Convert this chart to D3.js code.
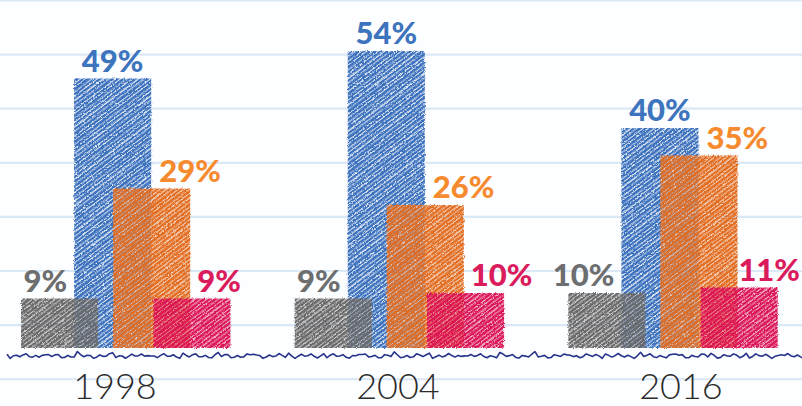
<!DOCTYPE html>
<meta charset="utf-8">
<style>
  body { margin: 0; background: #fdfeff; }
  svg { display: block; }
</style>
<body>
<script src="https://cdn.jsdelivr.net/npm/d3@7"></script>
<script>

// Data
const years = ["1998", "2004", "2016"];
const seriesKeys = ["gray", "blue", "orange", "pink"];
const grayValues = [9, 9, 10];
const blueValues = [49, 54, 40];
const orangeValues = [29, 26, 35];
const pinkValues = [9, 10, 11];

const width = 802, height = 406;
const baseY = 348;

const colors = {
  gray:   {bar: "#69696b", text: "#6d6e70"},
  blue:   {bar: "#3a70bd", text: "#3d74be"},
  orange: {bar: "#e26d20", text: "#f58a2e"},
  pink:   {bar: "#dc1457", text: "#da1b5c"}
};

const table = years.map((y, i) => ({
  year: y,
  gray: grayValues[i],
  blue: blueValues[i],
  orange: orangeValues[i],
  pink: pinkValues[i]
}));

const svg = d3.select("body").append("svg")
    .attr("width", width)
    .attr("height", height);

// scales
const x0 = d3.scaleBand()
    .domain(years)
    .range([21, 779])
    .paddingInner(0.23)
    .paddingOuter(0);

// the year captions do not sit exactly under the group centres
const xLabel = d3.scalePoint()
    .domain(years)
    .range([115, 681]);

const y = d3.scaleLinear()
    .domain([0, 60])
    .range([baseY, baseY - 60 * 5.5]);

// bars overlap inside a group, so the shift is a share of the group width
const bw = x0.bandwidth();
const barW = bw * 0.366;
const shift = {gray: 0, blue: 0.252, orange: 0.437, pink: 0.628};
const barX = (d, k) => x0(d.year) + shift[k] * bw;

// notebook lines in the background
svg.append("g")
  .selectAll("line")
  .data(d3.range(0, 8))
  .join("line")
    .attr("x1", 0)
    .attr("x2", width)
    .attr("y1", i => 0.5 + i * 54.1)
    .attr("y2", i => 0.5 + i * 54.1)
    .attr("stroke", "#dbe8f5")
    .attr("stroke-width", 2.2);

// hatch patterns and a rough filter for the hand drawn look
const defs = svg.append("defs");

const rough = defs.append("filter")
    .attr("id", "rough")
    .attr("x", "-5%").attr("y", "-5%")
    .attr("width", "110%").attr("height", "110%");
rough.append("feTurbulence")
    .attr("type", "fractalNoise")
    .attr("baseFrequency", 1.1)
    .attr("numOctaves", 2)
    .attr("seed", 4)
    .attr("result", "noise");
rough.append("feDisplacementMap")
    .attr("in", "SourceGraphic")
    .attr("in2", "noise")
    .attr("scale", 3)
    .attr("xChannelSelector", "R")
    .attr("yChannelSelector", "G");

const strokeRows = [1, 4.6, 8.0, 11.3, 14.9, 18.2];
const strokeWidths = [2.3, 2.7, 2.0, 2.8, 2.2, 2.5];

seriesKeys.forEach(k => {
  const p = defs.append("pattern")
      .attr("id", "hatch-" + k)
      .attr("patternUnits", "userSpaceOnUse")
      .attr("width", 40)
      .attr("height", 21)
      .attr("patternTransform", "rotate(-37)");
  p.append("rect")
      .attr("width", 40)
      .attr("height", 21)
      .attr("fill", colors[k].bar)
      .attr("fill-opacity", k === "blue" ? 0.12 : 0.3);
  strokeRows.forEach((r, i) => {
    p.append("line")
        .attr("x1", 0).attr("x2", 40)
        .attr("y1", r).attr("y2", r)
        .attr("stroke", colors[k].bar)
        .attr("stroke-width", strokeWidths[i]);
  });
});

// draw order: blue at the back, then gray, orange and pink on top
const drawOrder = ["blue", "gray", "orange", "pink"];
const barsG = svg.append("g").attr("filter", "url(#rough)");

drawOrder.forEach(k => {
  barsG.selectAll(".bar-" + k)
    .data(table)
    .join("rect")
      .attr("class", "bar bar-" + k)
      .attr("x", d => barX(d, k))
      .attr("y", d => y(d[k]))
      .attr("width", barW)
      .attr("height", d => baseY - y(d[k]))
      .attr("fill", "url(#hatch-" + k + ")");
});

// value labels
const labelG = svg.append("g")
    .style("font-family", "Lato, 'Noto Sans', sans-serif")
    .style("font-weight", 900)
    .style("font-size", "31px");

const labelPos = {
  gray:   d => ({x: barX(d, "blue") - 7, anchor: "end"}),
  blue:   d => ({x: barX(d, "blue") + barW / 2, anchor: "middle"}),
  orange: d => ({x: barX(d, "blue") + barW + 8, anchor: "start"}),
  pink:   d => ({x: barX(d, "orange") + barW + 7, anchor: "start"})
};

seriesKeys.forEach(k => {
  labelG.selectAll(".lab-" + k)
    .data(table)
    .join("text")
      .attr("class", "lab-" + k)
      .attr("x", d => labelPos[k](d).x)
      .attr("y", d => y(d[k]) - 7)
      .attr("text-anchor", d => labelPos[k](d).anchor)
      .attr("fill", colors[k].text)
      .text(d => d[k] + "%");
});

// keep labels that run past the right edge inside the picture
labelG.selectAll("text").each(function() {
  const b = this.getBBox();
  const over = b.x + b.width - (width - 2);
  if (over > 0) {
    d3.select(this).attr("x", +d3.select(this).attr("x") - over);
  }
});

// wavy hand drawn baseline
const wave = d3.range(7, width + 4, 3.2).map((px, i) => [
  px,
  356 + 1.5 * Math.sin(i * 1.9) + 1.0 * Math.sin(i * 0.71 + 1) + (i % 11 === 0 ? -2.5 : 0)
]);
svg.append("path")
    .attr("d", d3.line()(wave))
    .attr("fill", "none")
    .attr("stroke", "#27348b")
    .attr("stroke-width", 1.6)
    .attr("stroke-linejoin", "round");

// year labels
svg.append("g")
  .selectAll("text")
  .data(years)
  .join("text")
    .attr("x", d => xLabel(d))
    .attr("y", 399)
    .attr("text-anchor", "middle")
    .style("font-family", "Lato, 'Open Sans', sans-serif")
    .style("font-weight", 300)
    .style("font-size", "36px")
    .attr("fill", "#2b2b2b")
    .text(d => d);

</script>
</body>
